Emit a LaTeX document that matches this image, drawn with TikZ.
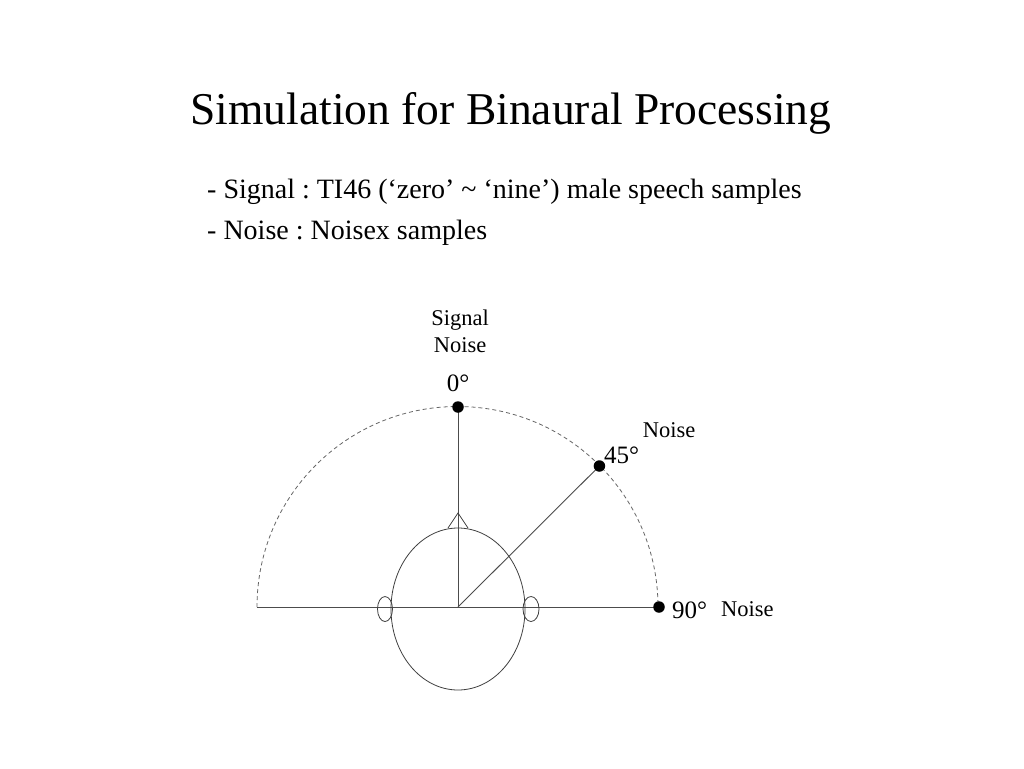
\documentclass[tikz,border=0pt]{standalone}
\usepackage{fontspec}
\setmainfont{Liberation Serif}
\usetikzlibrary{shapes.geometric}
\begin{document}
\frenchspacing
\begin{tikzpicture}[x=1pt,y=-1pt,
  ln/.style={draw=black!70,line width=0.9pt},
  dashln/.style={draw=black!60,line width=0.8pt,dash pattern=on 4pt off 3pt},
  dotnode/.style={circle,fill=black,inner sep=0pt,minimum size=11.5pt},
  lbl/.style={inner sep=0pt,font=\fontsize{22.5}{26}\selectfont},
  deg/.style={inner sep=0pt,font=\fontsize{25}{29}\selectfont}]
\useasboundingbox[fill=white] (0,0) rectangle (1024,768);
% title and text
\node[inner sep=0pt,font=\fontsize{45.5}{52}\selectfont] (title) at (511,113) {Simulation for Binaural Processing};
\node[inner sep=0pt,anchor=west,font=\fontsize{28}{32}\selectfont] (l1) at (207,192) {- Signal : TI46 (‘zero’ \textasciitilde{} ‘nine’) male speech samples};
\node[inner sep=0pt,anchor=west,font=\fontsize{28}{32}\selectfont] (l2) at (207,233) {- Noise : Noisex samples};
% geometry
\coordinate (c) at (458,607);
\coordinate (left) at (257,607);
\coordinate (p0) at (458,407);
\coordinate (p45) at (599.4,466);
\coordinate (p90) at (659,607);
\draw[dashln] (left) arc[start angle=180,end angle=360,radius=200.5];
\draw[ln] (left) -- (p90);
\draw[ln] (c) -- (p0);
\draw[ln] (c) -- (p45);
\node[dotnode] (d0) at (p0) {};
\node[dotnode] (d45) at (p45) {};
\node[dotnode] (d90) at (p90) {};
% head
\node[ellipse,draw=black!75,line width=0.8pt,minimum width=134pt,minimum height=162pt,inner sep=0pt] (head) at (458,609) {};
\node[ellipse,draw=black!75,line width=0.8pt,minimum width=15pt,minimum height=25pt,inner sep=0pt] (lear) at (385,609) {};
\node[ellipse,draw=black!75,line width=0.8pt,minimum width=16pt,minimum height=25pt,inner sep=0pt] (rear) at (531,609) {};
\coordinate (na) at (458,513);
\coordinate (nl) at (448,528);
\coordinate (nr) at (468,528);
\draw[draw=black!75,line width=0.8pt] (nl) -- (na) -- (nr);
% labels
\node[lbl] (sig) at (460,320) {Signal};
\node[lbl] (noi0) at (460,345) {Noise};
\node[deg] (a0) at (458,383) {0°};
\node[lbl] (noi45) at (669,430) {Noise};
\node[deg,anchor=west] (a45) at (604,455) {45°};
\node[deg,anchor=west] (a90) at (672,610) {90°};
\node[lbl,anchor=west] (noi90) at (721,609) {Noise};
\end{tikzpicture}
\end{document}
